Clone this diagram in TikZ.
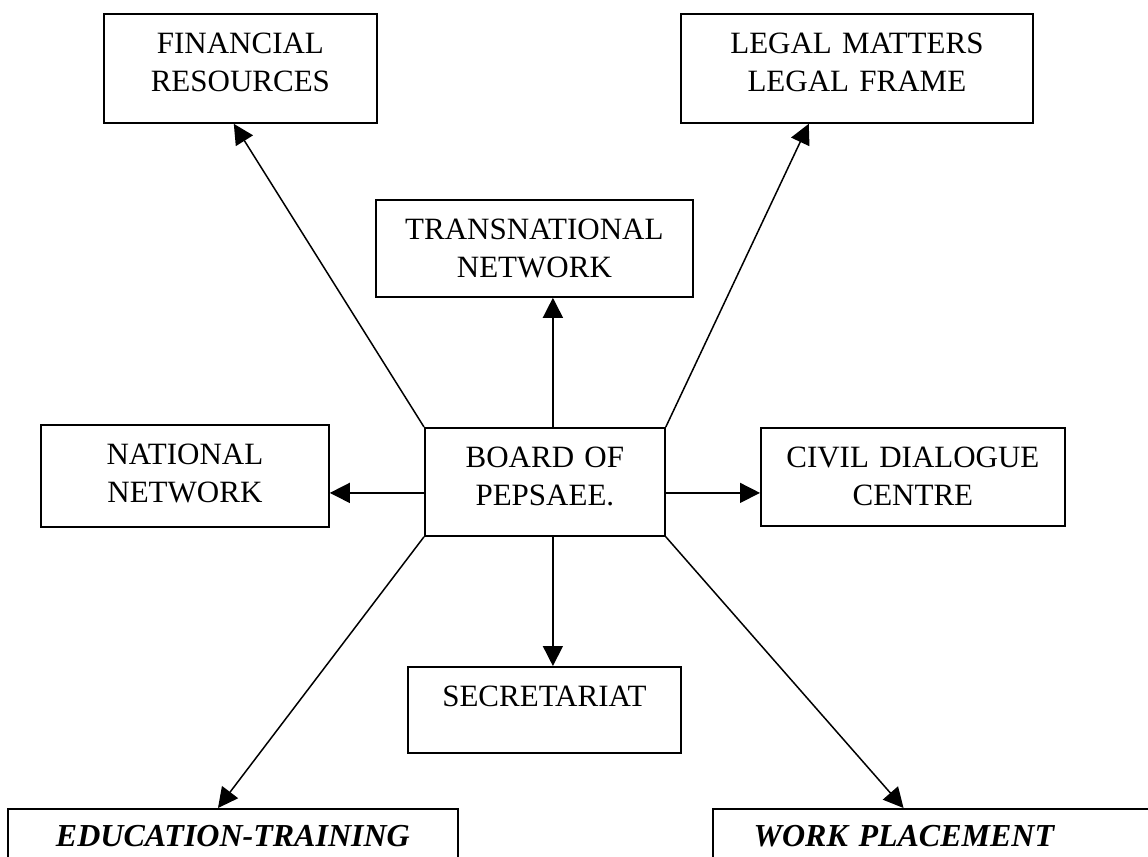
\documentclass[tikz,border=0pt]{standalone}
\usepackage{fontspec}
\setmainfont{Liberation Serif}
\usetikzlibrary{arrows.meta,calc}

\begin{document}
\begin{tikzpicture}[x=0.5pt, y=-0.5pt,
    box/.style={draw, line width=0.9pt, inner sep=0pt, anchor=north west, align=center,
        text height=20pt, font=\fontsize{15.5}{19}\selectfont},
    bigbox/.style={box, text width=225pt, text height=19pt, text depth=60pt,
        font=\fontsize{16}{19}\selectfont\bfseries\itshape},
    arr/.style={line width=0.75pt, -{Triangle[length=10pt, width=10pt]}}]
    \useasboundingbox (0,0) rectangle (1148,857);

    % boxes: name/left/top/width/depth/text
    \foreach \nm/\x/\y/\w/\d/\txt in {
        fin/103/13/136.5/34.5/{FINANCIAL\\RESOURCES},
        leg/680/13/176/34.5/{LEGAL MATTERS\\LEGAL FRAME},
        trans/375/199/158.5/28.5/{TRANSNATIONAL\\NETWORK},
        nat/40/424/144/31/{NATIONAL\\NETWORK},
        board/424/427/120/34/{BOARD OF\\PEPSAEE.},
        civ/760/427/152/29/{CIVIL DIALOGUE\\CENTRE},
        sec/407/666/136.5/23/{SECRETARIAT}} {
        \node[box, text width=\w pt, text depth=\d pt] (\nm) at (\x,\y) {\txt};
    }

    \node[bigbox] (edu) at (7,808) {EDUCATION-TRAINING};
    \node[bigbox] (work) at (712,808) {WORK PLACEMENT\rule{34pt}{0pt}};

    % links from the board
    \draw[arr] (board.north west) -- ($(fin.south west)!0.476!(fin.south east)$);
    \draw[arr] (board.north east) -- ($(leg.south west)!0.364!(leg.south east)$);
    \draw[arr] (board.south west) -- ($(edu.north west)!0.467!(edu.north east)$);
    \draw[arr] (board.south east) -- ($(work.north west)!0.424!(work.north east)$);
    \draw[arr] ([xshift=4pt]board.north) -- ([xshift=4pt]board.north |- trans.south);
    \draw[arr] ([xshift=4pt]board.south) -- ([xshift=4pt]board.south |- sec.north);
    \draw[arr] ([yshift=-5.5pt]board.west) -- ([yshift=-5.5pt]board.west -| nat.east);
    \draw[arr] ([yshift=-5.5pt]board.east) -- ([yshift=-5.5pt]board.east -| civ.west);
\end{tikzpicture}
\end{document}
